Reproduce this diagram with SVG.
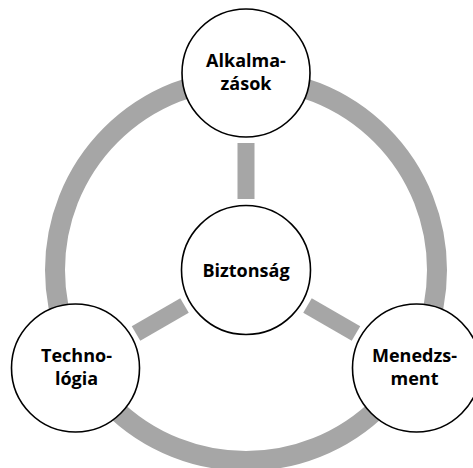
<svg xmlns="http://www.w3.org/2000/svg" width="473" height="468" viewBox="0 0 473 468">
  <style>
    .ring { fill: none; stroke: #a6a6a6; stroke-width: 20; }
    .spoke { fill: #a6a6a6; }
    .node circle { fill: #ffffff; stroke: #000000; stroke-width: 1.6; }
    .node text { font-family: "Open Sans", "Liberation Sans", sans-serif; font-weight: 700; font-size: 18px; fill: #000000; text-anchor: middle; }
  </style>
  <rect width="473" height="468" fill="#ffffff"/>

  <!-- outer ring and spokes joining the hub to the three outer nodes -->
  <g id="connectors">
    <circle class="ring" cx="246" cy="270" r="191"/>
    <rect class="spoke" x="237.5" y="143" width="17" height="56"/>
    <rect class="spoke" x="237.5" y="143" width="17" height="56" transform="rotate(120 246 270)"/>
    <rect class="spoke" x="237.5" y="143" width="17" height="56" transform="rotate(-120 246 270)"/>
  </g>

  <g id="node-alkalmazasok" class="node">
    <circle cx="246" cy="73" r="64"/>
    <text x="246" y="67">Alkalma-</text>
    <text x="246" y="90">zások</text>
  </g>

  <g id="node-biztonsag" class="node">
    <circle cx="246" cy="270" r="64.5"/>
    <text x="246" y="277">Biztonság</text>
  </g>

  <g id="node-technologia" class="node">
    <circle cx="75.5" cy="368" r="64"/>
    <text x="76.5" y="362">Techno-</text>
    <text x="76.5" y="385">lógia</text>
  </g>

  <g id="node-menedzsment" class="node">
    <circle cx="416.5" cy="368" r="64"/>
    <text x="414.5" y="362">Menedzs-</text>
    <text x="414.5" y="385">ment</text>
  </g>
</svg>
